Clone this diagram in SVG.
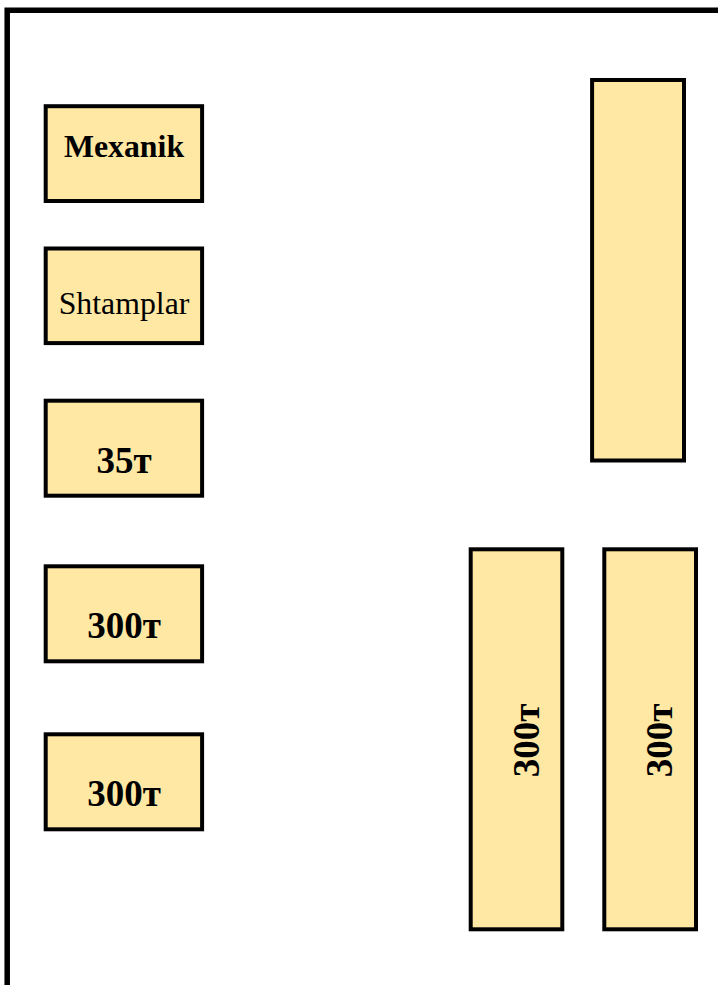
<svg xmlns="http://www.w3.org/2000/svg" width="718" height="985" viewBox="0 0 718 985">
<style>
.b{fill:#ffe8a3;stroke:#000;stroke-width:4}
.t{font-family:"Liberation Serif","Times New Roman",serif;fill:#000;text-anchor:middle}
.l{font-size:37px;font-weight:bold}
.m{font-size:31.8px}
</style>
<rect width="718" height="985" fill="#fff"/>
<g id="frame"><path d="M7.2 985V10.3H718" fill="none" stroke="#000" stroke-width="5.5"/></g>
<g id="connectors"/>
<g id="n1"><rect class="b" x="45.7" y="106.2" width="156.4" height="94.8"/><text class="t m" x="124" y="157" font-weight="bold">Mexanik</text></g>
<g id="n2"><rect class="b" x="45.7" y="248.5" width="156.4" height="94.6"/><text class="t m" x="124" y="314">Shtamplar</text></g>
<g id="n3"><rect class="b" x="45.7" y="400.7" width="156.4" height="95"/><text class="t l" x="124" y="473">35т</text></g>
<g id="n4"><rect class="b" x="45.7" y="566.3" width="156.4" height="95"/><text class="t l" x="124" y="638">300т</text></g>
<g id="n5"><rect class="b" x="45.7" y="734.3" width="156.4" height="95"/><text class="t l" x="124" y="806">300т</text></g>
<g id="n6"><rect class="b" x="592.1" y="80" width="91.9" height="380.5"/></g>
<g id="n7"><rect class="b" x="470.7" y="549.3" width="91.6" height="380"/><text class="t l" transform="translate(539.3 740.5) rotate(-90)">300т</text></g>
<g id="n8"><rect class="b" x="604.3" y="549.3" width="91.7" height="380"/><text class="t l" transform="translate(672.3 740.5) rotate(-90)">300т</text></g>
</svg>
